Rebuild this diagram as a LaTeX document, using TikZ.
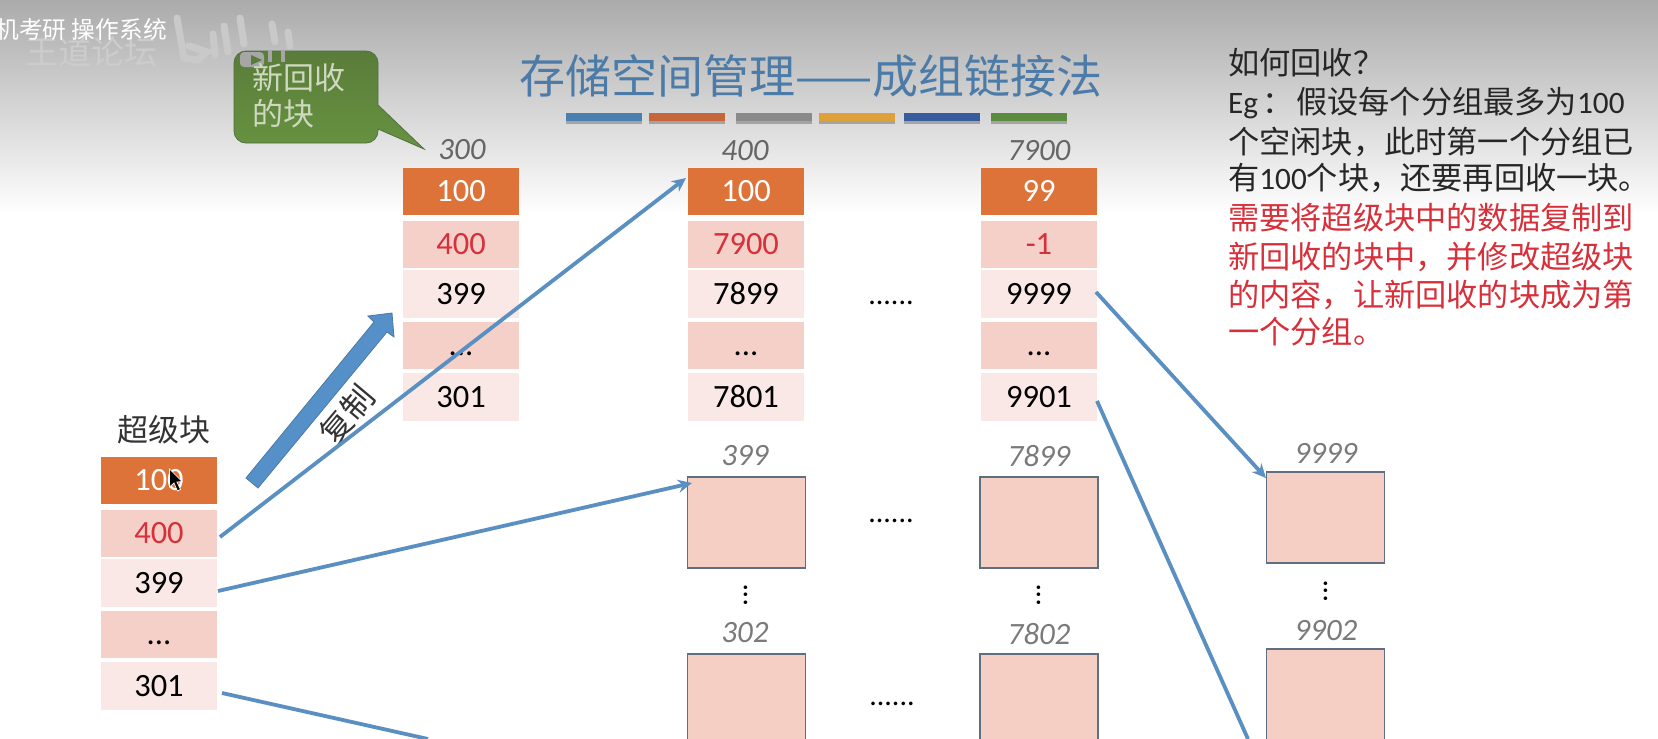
\documentclass[tikz,border=0pt]{standalone}
\usepackage{fontspec}
\usetikzlibrary{arrows.meta}
\setmainfont{Carlito}
\newfontfamily\cjk{Noto Sans CJK SC}
\newcommand{\fs}[1]{\fontsize{#1}{#1}\selectfont}
\definecolor{rowOrange}{HTML}{DD7339}
\definecolor{rowDark}{HTML}{F4D0C8}
\definecolor{rowLight}{HTML}{F9E8E6}
\definecolor{boxFill}{HTML}{F5CFC3}
\definecolor{boxLine}{HTML}{5F6F80}
\definecolor{lineBlue}{HTML}{5A8FC2}
\definecolor{copyBlue}{HTML}{5590C8}
\definecolor{copyEdge}{HTML}{4A7AA5}
\definecolor{redText}{HTML}{D8303A}
\definecolor{titleBlue}{HTML}{4C7BA8}
\definecolor{calloutText}{HTML}{CFD8C0}
\definecolor{calloutTop}{HTML}{5A7C3A}
\definecolor{calloutBottom}{HTML}{679340}
\definecolor{calloutEdge}{HTML}{4F7040}
\definecolor{barA}{HTML}{4A7FB0}
\definecolor{barB}{HTML}{C5673A}
\definecolor{barC}{HTML}{8A8A8A}
\definecolor{barD}{HTML}{DFA23A}
\definecolor{barE}{HTML}{385D9E}
\definecolor{barF}{HTML}{5C8A3E}
\tikzset{
  x=1pt,y=-1pt,
  rowcell/.style={minimum width=116pt,inner sep=0pt,outer sep=0pt,text height=20pt,text depth=0pt,font=\fs{32.5}},
  headcell/.style={rowcell,fill=rowOrange,text=white,minimum height=47pt},
  darkcell/.style={rowcell,fill=rowDark,minimum height=47pt},
  lightcell/.style={rowcell,fill=rowLight,minimum height=48pt},
  addr/.style={font=\fs{31}\itshape,text=#1,inner sep=0pt},
  addr/.default={black!52},
  blockbox/.style={draw=boxLine,fill=boxFill,line width=1.1pt,minimum width=118pt,minimum height=91pt,inner sep=0pt},
  hdots/.style={font=\fs{30},inner sep=0pt},
  vdots/.style={font=\fs{30},inner sep=0pt,rotate=90},
  link/.style={draw=lineBlue,line width=3.8pt},
  linkarrow/.style={link,-{Stealth[length=14pt,width=13pt]}},
  sidetext/.style={anchor=west,inner sep=0pt,font=\fs{31.2}},
  titlebar/.style={inner sep=0pt,minimum height=8pt,minimum width=76pt}
}
% name, centre x, top y, five values
\newcommand{\stackcol}[8]{%
  \node[headcell] (#1a) at (#2,#3+23.5) {#4};
  \node[darkcell,text=redText] (#1b) at (#2,#3+76.5) {#5};
  \node[lightcell] (#1c) at (#2,#3+126) {#6};
  \node[darkcell] (#1d) at (#2,#3+177.5) {#7};
  \node[lightcell] (#1e) at (#2,#3+229) {#8};
}
\newcommand{\tbar}[3]{%
  \fill[black,opacity=.25] (#2-38,116) rectangle (#2+38,124);
  \node[titlebar,fill=#3] (#1) at (#2,117) {};}
\begin{document}
\begin{tikzpicture}
\useasboundingbox (0,0) rectangle (1658,739);
\fill[white] (0,0) rectangle (1658,739);
\shade[top color=black!33,bottom color=white] (0,0) rectangle (1658,215);

% video overlay
\node[inner sep=0pt,text=black!20,font=\fs{33}\cjk] (ghost) at (91,52) {王道论坛};
\node[anchor=east,inner sep=0pt,text=white,font=\fs{23.7}\cjk] (overlay) at (167,29) {机考研 操作系统};

% bilibili watermark
\begin{scope}[black!21,line width=7pt,line cap=round]
  \draw (177,18) -- (184,58) -- (198,60) -- (207,52) -- (189,46);
  \draw (213,34) -- (215,55);
  \draw (224,26) -- (228,52);
  \draw (240,18) -- (244,44);
  \draw (272,24) -- (275,42);
  \draw (288,32) -- (290,46);
\end{scope}

% title
\node[inner sep=0pt,text=titleBlue,font=\fs{46}\cjk] (title) at (811,76) {存储空间管理——成组链接法};
\tbar{b1}{603.5}{barA}
\tbar{b2}{687}{barB}
\tbar{b3}{773.5}{barC}
\tbar{b4}{857}{barD}
\tbar{b5}{942}{barE}
\tbar{b6}{1028.5}{barF}

% callout
\draw[draw=calloutEdge,top color=calloutTop,bottom color=calloutBottom,line width=.8pt]
  (234,63) arc[start angle=180,end angle=270,radius=12] -- (366,51)
  arc[start angle=270,end angle=360,radius=12] -- (378,105) -- (424,149) -- (378,129) -- (378,131)
  arc[start angle=0,end angle=90,radius=12] -- (246,143)
  arc[start angle=90,end angle=180,radius=12] -- cycle;
\begin{scope}[black!35]
  \fill[rounded corners=4pt] (240,52) rectangle (264,67);
  \fill[calloutTop] (251,55) -- (262,60) -- (251,65) -- cycle;
  \draw[line width=4pt] (270,50) -- (270,62);
  \draw[line width=4pt] (283,50) -- (283,62);
\end{scope}
\node[anchor=west,inner sep=0pt,text=calloutText,font=\fs{31}\cjk] (recl) at (252,78) {新回收};
\node[anchor=west,inner sep=0pt,text=calloutText,font=\fs{31}\cjk] (recm) at (252,114) {的块};

% stacks
\node[inner sep=0pt,font=\fs{31}\cjk,text=black!80] (suplabel) at (164,430) {超级块};
\stackcol{s}{159}{457}{100}{400}{399}{...}{301}
\stackcol{p}{461}{168}{100}{400}{399}{...}{301}
\stackcol{q}{746}{168}{100}{7900}{7899}{...}{7801}
\stackcol{r}{1039}{168}{99}{-1}{9999}{...}{9901}
\node[addr=black!60] (t300) at (462,150) {300};
\node[addr=black!60] (t400) at (745,151) {400};
\node[addr=black!60] (t7900) at (1039,151) {7900};
\node[hdots] (dotsA) at (891,303) {......};

% blocks
\node[addr] (t399) at (745,456) {399};
\node[addr] (t7899) at (1039,456) {7899};
\node[addr] (t302) at (745,633) {302};
\node[addr] (t7802) at (1039,634) {7802};
\node[addr] (t9999) at (1326,453) {9999};
\node[addr] (t9902) at (1326,631) {9902};
\node[blockbox] (n399) at (746.5,522.5) {};
\node[blockbox] (n7899) at (1039,522.5) {};
\node[blockbox] (n9999) at (1325.5,517.5) {};
\node[blockbox,minimum height=120pt] (n302) at (746.5,714) {};
\node[blockbox,minimum height=120pt] (n7802) at (1039,714) {};
\node[blockbox,minimum height=120pt] (n9902) at (1325.5,709) {};
\node[hdots] (dotsB) at (891,521) {......};
\node[hdots] (dotsC) at (892,704) {......};
\node[vdots] (vdA) at (746,595) {...};
\node[vdots] (vdB) at (1039,595) {...};
\node[vdots] (vdC) at (1326,591) {...};

% copy arrow
\fill[fill=copyBlue,draw=copyEdge,line width=.8pt]
  (246,478) -- (374,322) -- (368,316) -- (392,313) -- (394,337) -- (387,332) -- (258,488) -- cycle;
\node[inner sep=0pt,rotate=50,font=\fs{32}\cjk,text=black!80] (copy) at (347,415) {复制};

% connectors
\coordinate (c301) at (222,693);
\coordinate (c301b) at (428,739);
\coordinate (c400) at (220,537);
\coordinate (c399) at (218,591);
\coordinate (c9999) at (1096,292);
\coordinate (c9901) at (1097,401);
\coordinate (c9901b) at (1248,739);
\coordinate (h400) at (686,178);
\coordinate (h399) at (692,483);
\coordinate (h9999) at (1266,478);
\draw[linkarrow] (c400) -- (h400);
\draw[linkarrow] (c399) -- (h399);
\draw[link] (c301) -- (c301b);
\draw[linkarrow] (c9999) -- (h9999);
\draw[link] (c9901) -- (c9901b);

% cursor
\draw[fill=black,draw=white,line width=.7pt]
  (169.5,469) -- (169.5,487) -- (174,483) -- (177.5,491) -- (180.5,489.5) -- (177,482) -- (182,481.5) -- cycle;

% side text
\node[sidetext,font=\fs{31.2}\cjk,text=black!85] (l1) at (1228,63) {如何回收？};
\node[sidetext,text=black!85] (l2) at (1228,103) {Eg\hspace{4pt}{\cjk ：}\hspace{3pt}{\cjk 假设每个分组最多为}100};
\node[sidetext,font=\fs{31.2}\cjk,text=black!85] (l3) at (1228,142) {个空闲块，此时第一个分组已};
\node[sidetext,text=black!85] (l4) at (1228,178) {{\cjk 有}100{\cjk 个块，还要再回收一块。}};
\node[sidetext,font=\fs{31.2}\cjk,text=redText] (l5) at (1228,218) {需要将超级块中的数据复制到};
\node[sidetext,font=\fs{31.2}\cjk,text=redText] (l6) at (1228,257) {新回收的块中，并修改超级块};
\node[sidetext,font=\fs{31.2}\cjk,text=redText] (l7) at (1228,295) {的内容，让新回收的块成为第};
\node[sidetext,font=\fs{31.2}\cjk,text=redText] (l8) at (1228,332) {一个分组。};
\end{tikzpicture}
\end{document}
